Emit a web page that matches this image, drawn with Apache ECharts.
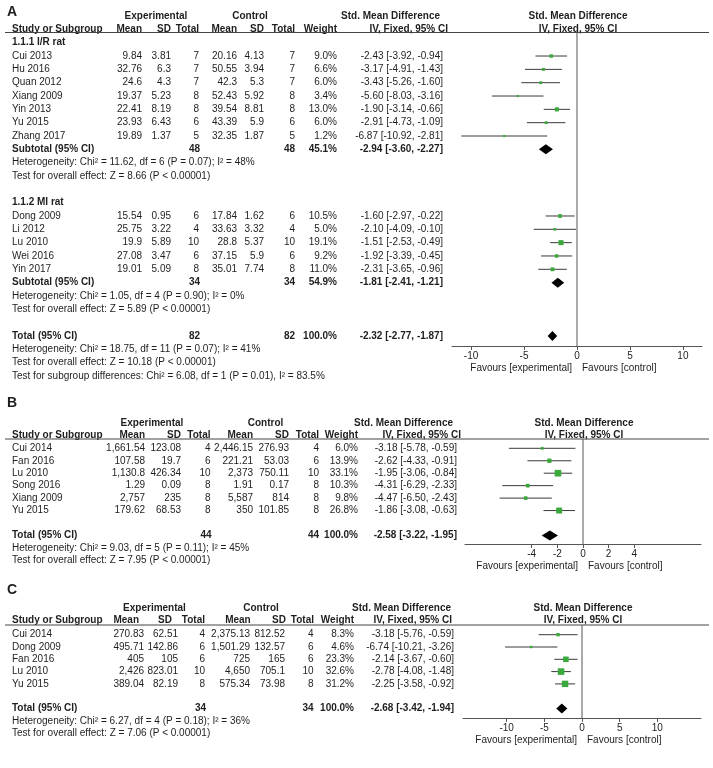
<!DOCTYPE html>
<html><head><meta charset="utf-8">
<script src="https://cdn.jsdelivr.net/npm/echarts@6/dist/echarts.min.js"></script>
<style>html,body{margin:0;padding:0;background:#fff}#c{width:713px;height:768px}</style>
</head><body><div id="c"></div>
<script>
// ================= DATA =================
// Panel A
const studyA   = ['Cui 2013','Hu 2016','Quan 2012','Xiang 2009','Yin 2013','Yu 2015','Zhang 2017','Dong 2009','Li 2012','Lu 2010','Wei 2016','Yin 2017'];
const expMeanA = ['9.84','32.76','24.6','19.37','22.41','23.93','19.89','15.54','25.75','19.9','27.08','19.01'];
const expSdA   = ['3.81','6.3','4.3','5.23','8.19','6.43','1.37','0.95','3.22','5.89','3.47','5.09'];
const expNA    = [7,7,7,8,8,6,5,6,4,10,6,8];
const ctlMeanA = ['20.16','50.55','42.3','52.43','39.54','43.39','32.35','17.84','33.63','28.8','37.15','35.01'];
const ctlSdA   = ['4.13','3.94','5.3','5.92','8.81','5.9','1.87','1.62','3.32','5.37','5.9','7.74'];
const ctlNA    = [7,7,7,8,8,6,5,6,4,10,6,8];
const weightA  = [9.0,6.6,6.0,3.4,13.0,6.0,1.2,10.5,5.0,19.1,9.2,11.0];
const smdA     = [-2.43,-3.17,-3.43,-5.60,-1.90,-2.91,-6.87,-1.60,-2.10,-1.51,-1.92,-2.31];
const lowA     = [-3.92,-4.91,-5.26,-8.03,-3.14,-4.73,-10.92,-2.97,-4.09,-2.53,-3.39,-3.65];
const highA    = [-0.94,-1.43,-1.60,-3.16,-0.66,-1.09,-2.81,-0.22,-0.10,-0.49,-0.45,-0.96];
const rowA     = [1,2,3,4,5,6,7,13,14,15,16,17];
const sumLabelA = ['Subtotal (95% CI)','Subtotal (95% CI)','Total (95% CI)'];
const sumRowA   = [8,18,22];
const sumExpNA  = [48,34,82];
const sumCtlNA  = [48,34,82];
const sumWeightA= [45.1,54.9,100.0];
const sumEstA   = [-2.94,-1.81,-2.32];
const sumLowA   = [-3.60,-2.41,-2.77];
const sumHighA  = [-2.27,-1.21,-1.87];
const noteTextA = ['1.1.1 I/R rat',
  'Heterogeneity: Chi\u00b2 = 11.62, df = 6 (P = 0.07); I\u00b2 = 48%',
  'Test for overall effect: Z = 8.66 (P < 0.00001)',
  '1.1.2 MI rat',
  'Heterogeneity: Chi\u00b2 = 1.05, df = 4 (P = 0.90); I\u00b2 = 0%',
  'Test for overall effect: Z = 5.89 (P < 0.00001)',
  'Heterogeneity: Chi\u00b2 = 18.75, df = 11 (P = 0.07); I\u00b2 = 41%',
  'Test for overall effect: Z = 10.18 (P < 0.00001)',
  'Test for subgroup differences: Chi\u00b2 = 6.08, df = 1 (P = 0.01), I\u00b2 = 83.5%'];
const noteRowA  = [0,9,10,12,19,20,23,24,25];
const noteBoldA = [true,false,false,true,false,false,false,false,false];
const tickA = [-10,-5,0,5,10];

// Panel B
const studyB   = ['Cui 2014','Fan 2016','Lu 2010','Song 2016','Xiang 2009','Yu 2015'];
const expMeanB = ['1,661.54','107.58','1,130.8','1.29','2,757','179.62'];
const expSdB   = ['123.08','19.7','426.34','0.09','235','68.53'];
const expNB    = [4,6,10,8,8,8];
const ctlMeanB = ['2,446.15','221.21','2,373','1.91','5,587','350'];
const ctlSdB   = ['276.93','53.03','750.11','0.17','814','101.85'];
const ctlNB    = [4,6,10,8,8,8];
const weightB  = [6.0,13.9,33.1,10.3,9.8,26.8];
const smdB     = [-3.18,-2.62,-1.95,-4.31,-4.47,-1.86];
const lowB     = [-5.78,-4.33,-3.06,-6.29,-6.50,-3.08];
const highB    = [-0.59,-0.91,-0.84,-2.33,-2.43,-0.63];
const rowB     = [0,1,2,3,4,5];
const sumLabelB = ['Total (95% CI)'];
const sumRowB   = [7];
const sumExpNB  = [44];
const sumCtlNB  = [44];
const sumWeightB= [100.0];
const sumEstB   = [-2.58];
const sumLowB   = [-3.22];
const sumHighB  = [-1.95];
const noteTextB = ['Heterogeneity: Chi\u00b2 = 9.03, df = 5 (P = 0.11); I\u00b2 = 45%',
  'Test for overall effect: Z = 7.95 (P < 0.00001)'];
const noteRowB  = [8,9];
const noteBoldB = [false,false];
const tickB = [-4,-2,0,2,4];

// Panel C
const studyC   = ['Cui 2014','Dong 2009','Fan 2016','Lu 2010','Yu 2015'];
const expMeanC = ['270.83','495.71','405','2,426','389.04'];
const expSdC   = ['62.51','142.86','105','823.01','82.19'];
const expNC    = [4,6,6,10,8];
const ctlMeanC = ['2,375.13','1,501.29','725','4,650','575.34'];
const ctlSdC   = ['812.52','132.57','165','705.1','73.98'];
const ctlNC    = [4,6,6,10,8];
const weightC  = [8.3,4.6,23.3,32.6,31.2];
const smdC     = [-3.18,-6.74,-2.14,-2.78,-2.25];
const lowC     = [-5.76,-10.21,-3.67,-4.08,-3.58];
const highC    = [-0.59,-3.26,-0.60,-1.48,-0.92];
const rowC     = [0,1,2,3,4];
const sumLabelC = ['Total (95% CI)'];
const sumRowC   = [6];
const sumExpNC  = [34];
const sumCtlNC  = [34];
const sumWeightC= [100.0];
const sumEstC   = [-2.68];
const sumLowC   = [-3.42];
const sumHighC  = [-1.94];
const noteTextC = ['Heterogeneity: Chi\u00b2 = 6.27, df = 4 (P = 0.18); I\u00b2 = 36%',
  'Test for overall effect: Z = 7.06 (P < 0.00001)'];
const noteRowC  = [7,8];
const noteBoldC = [false,false];
const tickC = [-10,-5,0,5,10];

const headerLabels = ['Study or Subgroup','Mean','SD','Total','Mean','SD','Total','Weight'];

// ================= LAYOUT / STYLE =================
const FONT = '"Liberation Sans", Arial, Helvetica, sans-serif';
const TXT = '#1e1e1e';
const GREEN = '#39a93b';
const LINE = '#3a3a3a';
function font(b, s){ return (b ? 'bold ' : '') + (s || 10) + 'px ' + FONT; }

const layouts = [
  { letter:'A', letterY:12, h1Y:16.5, h2Y:29.5, top:32.5, axisY:346, row0:42.7, step:13.33,
    left:452, right:11, xMin:-11.8, xMax:11.8, ticks:tickA,
    cols:{study:12, em:142, es:171, en:199, cm:237, cs:264, cn:295, w:337, ci:443},
    hcols:[12,142,171,199,237,264,295,337], expC:156, ctlC:250, smdR:440, ivR:448 },
  { letter:'B', letterY:403, h1Y:423, h2Y:435.5, top:439, axisY:544, row0:448.3, step:12.45,
    left:465, right:12, xMin:-9.2, xMax:9.2, ticks:tickB,
    cols:{study:12, em:145, es:181, en:210.5, cm:253, cs:289, cn:319, w:358, ci:457},
    hcols:[12,145,181,210.5,253,289,319,358], expC:152, ctlC:265.5, smdR:453, ivR:461 },
  { letter:'C', letterY:590, h1Y:608, h2Y:620, top:625, axisY:718, row0:634.7, step:12.3,
    left:463, right:12, xMin:-15.8, xMax:15.8, ticks:tickC,
    cols:{study:12, em:144, es:178, en:205, cm:250, cs:285, cn:313.5, w:354, ci:454},
    hcols:[12,139,172,205,250.7,286,314,354], expC:154.5, ctlC:261, smdR:451, ivR:452 }
];

const panelData = [
  { study:studyA, em:expMeanA, es:expSdA, en:expNA, cm:ctlMeanA, cs:ctlSdA, cn:ctlNA, w:weightA, smd:smdA, lo:lowA, hi:highA, row:rowA,
    sLabel:sumLabelA, sRow:sumRowA, sEn:sumExpNA, sCn:sumCtlNA, sW:sumWeightA, sEst:sumEstA, sLo:sumLowA, sHi:sumHighA,
    nText:noteTextA, nRow:noteRowA, nBold:noteBoldA },
  { study:studyB, em:expMeanB, es:expSdB, en:expNB, cm:ctlMeanB, cs:ctlSdB, cn:ctlNB, w:weightB, smd:smdB, lo:lowB, hi:highB, row:rowB,
    sLabel:sumLabelB, sRow:sumRowB, sEn:sumExpNB, sCn:sumCtlNB, sW:sumWeightB, sEst:sumEstB, sLo:sumLowB, sHi:sumHighB,
    nText:noteTextB, nRow:noteRowB, nBold:noteBoldB },
  { study:studyC, em:expMeanC, es:expSdC, en:expNC, cm:ctlMeanC, cs:ctlSdC, cn:ctlNC, w:weightC, smd:smdC, lo:lowC, hi:highC, row:rowC,
    sLabel:sumLabelC, sRow:sumRowC, sEn:sumExpNC, sCn:sumCtlNC, sW:sumWeightC, sEst:sumEstC, sLo:sumLowC, sHi:sumHighC,
    nText:noteTextC, nRow:noteRowC, nBold:noteBoldC }
];

function fmtCI(e,l,h){ return e.toFixed(2) + ' [' + l.toFixed(2) + ', ' + h.toFixed(2) + ']'; }
function fmtW(w){ return w.toFixed(1) + '%'; }

// ================= OPTION =================
const grids = [], xAxes = [], yAxes = [], series = [];

layouts.forEach((L, p) => {
  const D = panelData[p];
  const yMin = (L.top - L.row0) / L.step;
  const yMax = (L.axisY - L.row0) / L.step;
  const rowOf = px => (px - L.row0) / L.step;
  grids.push({ left:L.left, right:L.right, top:L.top, height:L.axisY - L.top, containLabel:false });
  xAxes.push({ gridIndex:p, type:'value', min:L.xMin, max:L.xMax,
    axisLine:{ show:true, onZero:false, lineStyle:{ color:'#555', width:1 } },
    axisTick:{ show:true, inside:false, length:4, customValues:L.ticks, lineStyle:{ color:'#555' } },
    axisLabel:{ show:true, customValues:L.ticks, color:TXT, fontSize:10, fontFamily:FONT, margin:5,
                formatter: v => String(v) },
    splitLine:{ show:false } });
  yAxes.push({ gridIndex:p, type:'value', inverse:true, min:yMin, max:yMax, show:false });

  // --- table text, header rule, zero line, favours labels ---
  series.push({
    type:'custom', xAxisIndex:p, yAxisIndex:p, clip:false, silent:true, z:1,
    data:[[0, 0]],
    renderItem(params, api){
      const yp = r => api.coord([0, r])[1];
      const x0 = api.coord([0, 0])[0];
      const ch = [];
      const T = (t, x, y, align, bold, size) => ch.push({ type:'text', style:{
        text:t, x:x, y:y, align:align || 'left', verticalAlign:'middle', font:font(bold, size), fill:TXT } });
      const C = L.cols;
      // panel letter
      T(L.letter, 7, yp(rowOf(L.letterY)), 'left', true, 14);
      // header row 1
      const h1 = yp(rowOf(L.h1Y)), h2 = yp(rowOf(L.h2Y));
      T('Experimental', L.expC, h1, 'center', true);
      T('Control', L.ctlC, h1, 'center', true);
      T('Std. Mean Difference', L.smdR, h1, 'right', true);
      T('Std. Mean Difference', x0 + 1, h1, 'center', true);
      // header row 2
      headerLabels.forEach((h, i) => T(h, L.hcols[i], h2, i === 0 ? 'left' : 'right', true));
      T('IV, Fixed, 95% CI', L.ivR, h2, 'right', true);
      T('IV, Fixed, 95% CI', x0 + 1, h2, 'center', true);
      // header rule
      const ry = yp(yMin);
      ch.push({ type:'line', shape:{ x1:5, y1:ry, x2:709, y2:ry }, style:{ stroke:'#444', lineWidth:1 } });
      // zero line
      ch.push({ type:'line', shape:{ x1:x0, y1:ry, x2:x0, y2:yp(yMax) }, style:{ stroke:'#555', lineWidth:1 } });
      // study rows
      D.study.forEach((s, i) => {
        const y = yp(D.row[i]);
        T(s, C.study, y, 'left');
        T(D.em[i], C.em, y, 'right');
        T(D.es[i], C.es, y, 'right');
        T(String(D.en[i]), C.en, y, 'right');
        T(D.cm[i], C.cm, y, 'right');
        T(D.cs[i], C.cs, y, 'right');
        T(String(D.cn[i]), C.cn, y, 'right');
        T(fmtW(D.w[i]), C.w, y, 'right');
        T(fmtCI(D.smd[i], D.lo[i], D.hi[i]), C.ci, y, 'right');
      });
      // summary rows
      D.sLabel.forEach((s, i) => {
        const y = yp(D.sRow[i]);
        T(s, C.study, y, 'left', true);
        T(String(D.sEn[i]), C.en + 1, y, 'right', true);
        T(String(D.sCn[i]), C.cn, y, 'right', true);
        T(fmtW(D.sW[i]), C.w, y, 'right', true);
        T(fmtCI(D.sEst[i], D.sLo[i], D.sHi[i]), C.ci, y, 'right', true);
      });
      // notes
      D.nText.forEach((t, i) => T(t, C.study, yp(D.nRow[i]), 'left', D.nBold[i]));
      // favours
      const fy = yp(yMax) + 22;
      T('Favours [experimental]', x0 - 5, fy, 'right');
      T('Favours [control]', x0 + 5, fy, 'left');
      return { type:'group', children:ch };
    }
  });

  // --- study CIs and squares ---
  series.push({
    type:'custom', xAxisIndex:p, yAxisIndex:p, clip:false, z:3,
    encode:{ x:0, y:1 },
    data: D.smd.map((e, i) => [e, D.row[i], D.lo[i], D.hi[i], D.w[i]]),
    renderItem(params, api){
      const e = api.value(0), r = api.value(1), lo = api.value(2), hi = api.value(3), w = api.value(4);
      const pl = api.coord([lo, r]), ph = api.coord([hi, r]), pe = api.coord([e, r]);
      const s = Math.max(2.2, 1.15 * Math.sqrt(w));
      return { type:'group', children:[
        { type:'line', shape:{ x1:pl[0], y1:pl[1], x2:ph[0], y2:ph[1] }, style:{ stroke:LINE, lineWidth:1 } },
        { type:'rect', shape:{ x:pe[0] - s/2, y:pe[1] - s/2, width:s, height:s }, style:{ fill:GREEN } }
      ]};
    }
  });

  // --- pooled diamonds ---
  series.push({
    type:'custom', xAxisIndex:p, yAxisIndex:p, clip:false, z:3,
    encode:{ x:0, y:1 },
    data: D.sEst.map((e, i) => [e, D.sRow[i], D.sLo[i], D.sHi[i]]),
    renderItem(params, api){
      const e = api.value(0), r = api.value(1), lo = api.value(2), hi = api.value(3);
      const pl = api.coord([lo, r]), ph = api.coord([hi, r]), pe = api.coord([e, r]);
      const h = 5;
      return { type:'polygon', shape:{ points:[[pl[0], pe[1]], [pe[0], pe[1] - h], [ph[0], pe[1]], [pe[0], pe[1] + h]] },
               style:{ fill:'#000' } };
    }
  });
});

const chart = echarts.init(document.getElementById('c'), null, { renderer:'canvas' });
chart.setOption({
  backgroundColor:'#fff',
  animation:false,
  grid:grids, xAxis:xAxes, yAxis:yAxes, series:series
});
</script>
</body></html>
